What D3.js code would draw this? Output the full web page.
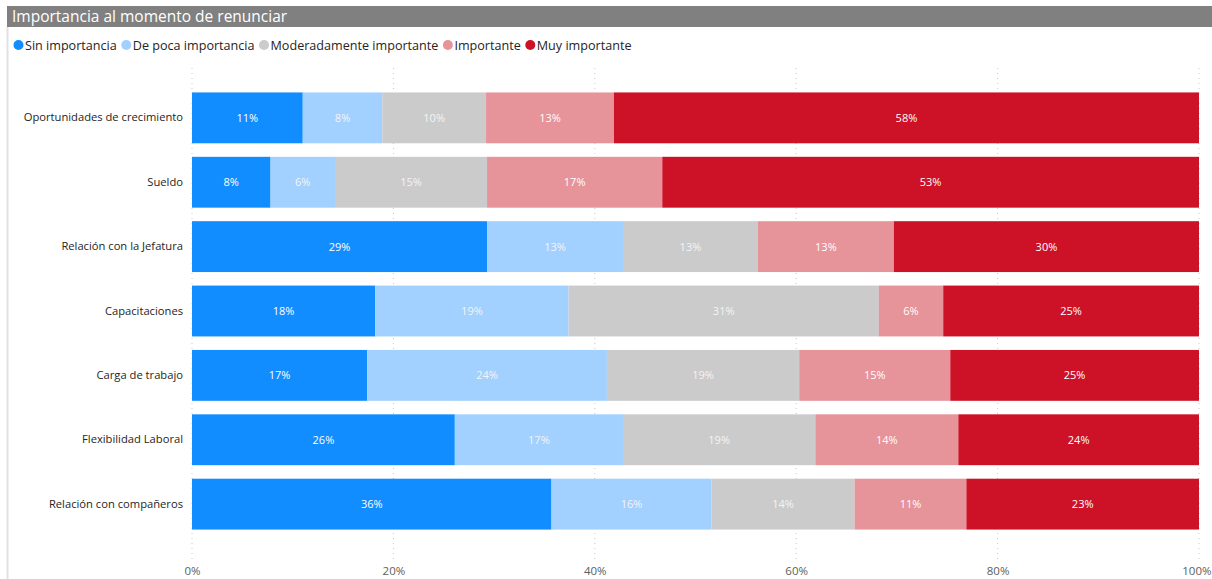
<!DOCTYPE html>
<html><head><meta charset="utf-8">
<script src="https://cdn.jsdelivr.net/npm/d3@7"></script>
<style>
body{margin:0;background:#fff;}
svg{display:block;font-family:"Open Sans","Noto Sans",sans-serif;}
</style></head>
<body><svg id="c" width="1212" height="579"></svg>
<script>
const categories = ["Oportunidades de crecimiento","Sueldo","Relación con la Jefatura","Capacitaciones","Carga de trabajo","Flexibilidad Laboral","Relación con compañeros"];
const seriesNames = ["Sin importancia","De poca importancia","Moderadamente importante","Importante","Muy importante"];
const sinImportancia = [11.0, 7.8, 29.3, 18.2, 17.4, 26.1, 35.7];
const dePocaImportancia = [7.9, 6.4, 13.5, 19.2, 23.8, 16.7, 15.9];
const moderadamente = [10.3, 15.1, 13.4, 30.8, 19.1, 19.1, 14.2];
const importante = [12.7, 17.4, 13.5, 6.4, 15.0, 14.2, 11.1];
const muyImportante = [58.1, 53.3, 30.3, 25.4, 24.7, 23.9, 23.1];
const tickValues = [0, 20, 40, 60, 80, 100];
const colors = ["#118DFF","#A2D0FF","#CBCBCB","#E6939A","#CD1126"];
const labelColors = ["#ffffff","#f4f4f4","#f4f4f4","#ffffff","#ffffff"];

const svg = d3.select("#c");
// title bar
svg.append("rect").attr("x",7).attr("y",6).attr("width",1205).attr("height",21).attr("fill","#808080");
svg.append("text").attr("x",12).attr("y",22).attr("fill","#fff").attr("font-size",15.5).text("Importancia al momento de renunciar");
svg.append("line").attr("x1",7.5).attr("x2",7.5).attr("y1",27).attr("y2",579).attr("stroke","#e2e2e2").attr("stroke-width",2);

// legend
let lx = 14;
const lg = svg.append("g");
seriesNames.forEach((n,i)=>{
  lg.append("circle").attr("cx",lx+4.5).attr("cy",45).attr("r",5).attr("fill",colors[i]);
  const t = lg.append("text").attr("x",lx+11).attr("y",50).attr("font-size",12.6).attr("fill","#252423").text(n);
  lx += 11 + t.node().getComputedTextLength() + 5;
});

const rows = categories.map((c,i)=>[sinImportancia[i],dePocaImportancia[i],moderadamente[i],importante[i],muyImportante[i]]);
const x = d3.scaleLinear().domain([0,100]).range([192,1199]);
const y = d3.scaleBand().domain(categories).range([86,536]).paddingInner(0.21).paddingOuter(0.1);

// grid
const g = svg.append("g");
tickValues.forEach(v=>{
  g.append("line").attr("x1",x(v)).attr("x2",x(v)).attr("y1",68).attr("y2",560)
   .attr("stroke","#c8c8c8").attr("stroke-dasharray","1,4").attr("stroke-width",1);
});

const stack = d3.stack().keys([0,1,2,3,4])(rows);
stack.forEach((layer,si)=>{
  layer.forEach((d,ri)=>{
    const cat = categories[ri];
    svg.append("rect").attr("x",x(d[0])).attr("y",y(cat)).attr("width",x(d[1])-x(d[0])).attr("height",y.bandwidth()).attr("fill",colors[si]);
    svg.append("text").attr("x",(x(d[0])+x(d[1]))/2).attr("y",y(cat)+y.bandwidth()/2+4).attr("text-anchor","middle")
      .attr("font-size",11).attr("fill",labelColors[si]).text(Math.round(d[1]-d[0])+"%");
  });
});

// y axis labels
const ya = svg.append("g").attr("transform","translate(183,0)").call(d3.axisLeft(y).tickSize(0).tickPadding(0));
ya.select(".domain").remove();
ya.selectAll("text").attr("font-size",11.2).attr("fill","#252423").style("font-family","'Open Sans',sans-serif");

// x axis
const xa = svg.append("g").attr("transform","translate(0,562)").call(d3.axisBottom(x).tickValues(tickValues).tickFormat(d=>d+"%").tickSize(0).tickPadding(5));
xa.select(".domain").remove();
xa.selectAll("text").attr("font-size",11.5).attr("fill","#605E5C").style("font-family","'Open Sans',sans-serif");
xa.selectAll("text").filter(d=>d===100).attr("text-anchor","end").attr("dx",12);
</script></body></html>
